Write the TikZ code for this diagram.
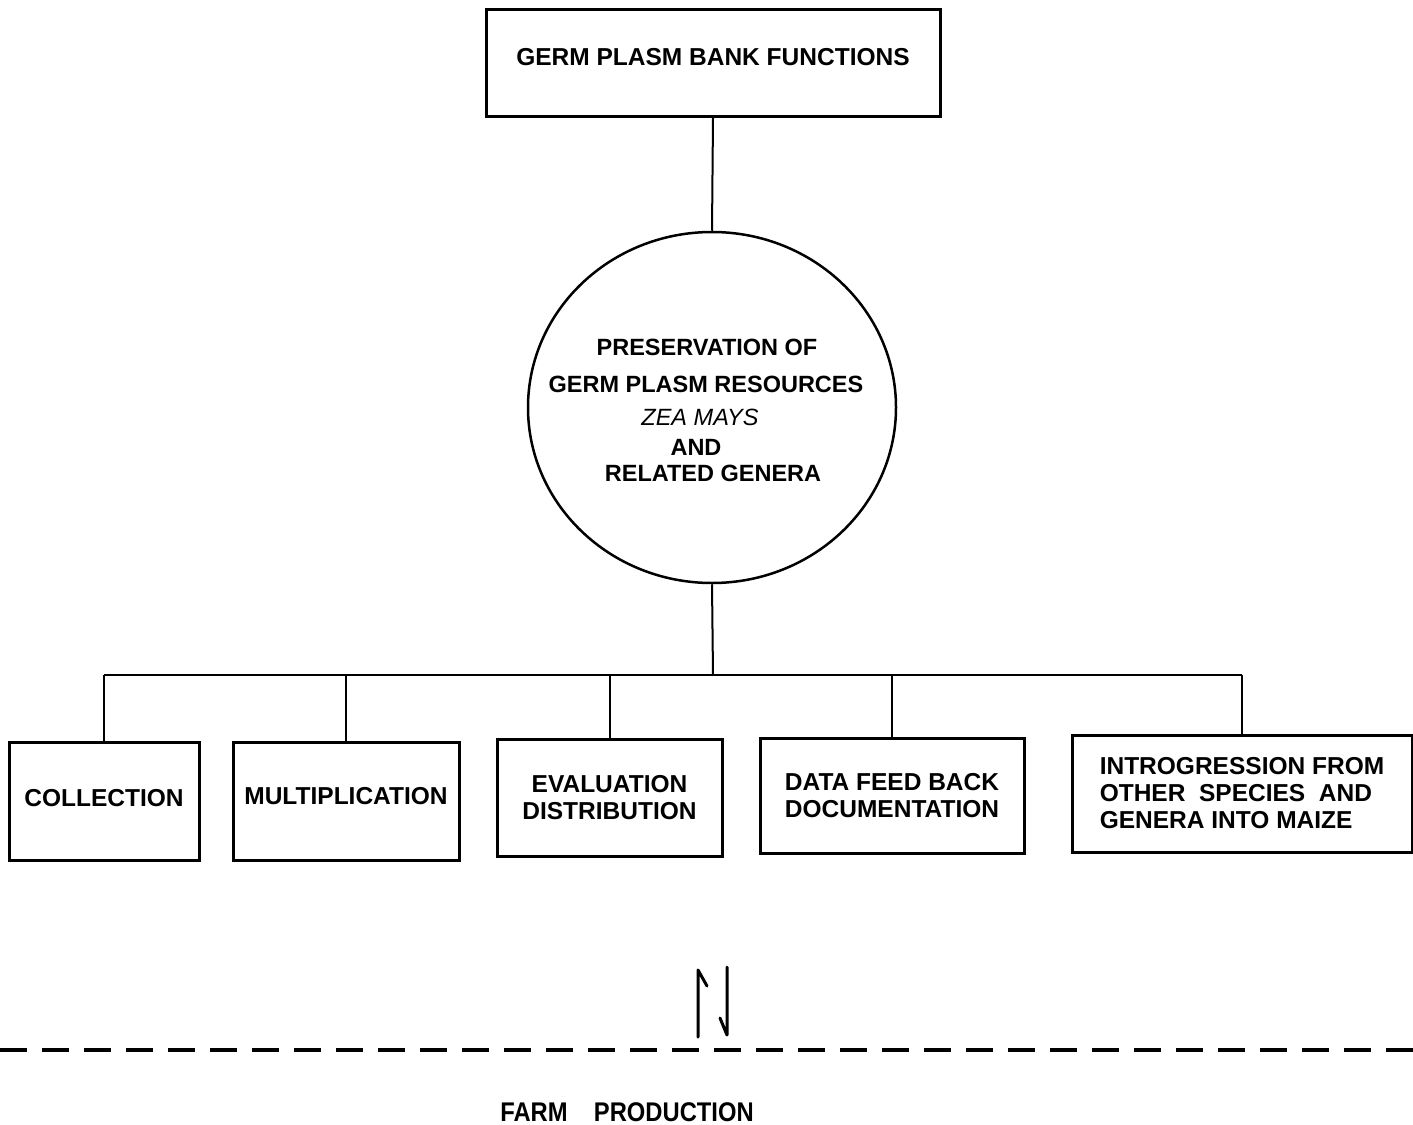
\documentclass[tikz,border=0pt]{standalone}
\usepackage{fontspec}
\setmainfont{Liberation Sans}
\usetikzlibrary{shapes.geometric}
\begin{document}
\begin{tikzpicture}[x=1pt,y=-1pt,
  box/.style={draw, line width=3pt, inner sep=0pt, font=\fontsize{24.5}{27}\selectfont\bfseries, align=center},
  conn/.style={line width=2pt},
  lbl/.style={anchor=base, inner sep=0pt, font=\fontsize{23.5}{26}\selectfont\bfseries},
  harp/.style={line width=3pt, line cap=round, line join=round}]
\useasboundingbox (0,0) rectangle (1413,1124);
\fill[white] (0,0) rectangle (1413,1124);

% top box
\node[box, minimum width=454pt, minimum height=106pt, text depth=12pt] (top) at (713,63) {GERM PLASM BANK FUNCTIONS};

% central circle
\node[draw, ellipse, line width=2.5pt, minimum width=368pt, minimum height=351pt, inner sep=0pt] (pres) at (712,407.5) {};
\node[lbl] (p1) at (707,355) {PRESERVATION OF};
\node[lbl] (p2) at (706,392) {GERM PLASM RESOURCES};
\node[lbl, font=\fontsize{23.5}{26}\selectfont\itshape] (p3) at (700,425) {ZEA MAYS};
\node[lbl] (p4) at (696,455) {AND};
\node[lbl] (p5) at (713,481) {RELATED GENERA};

% bottom boxes
\node[box, minimum width=190pt, minimum height=118pt, text depth=7pt] (b1) at (104,801) {COLLECTION};
\node[box, minimum width=226pt, minimum height=118pt, text depth=10pt] (b2) at (346,801) {MULTIPLICATION};
\node[box, minimum width=225pt, minimum height=117pt] (b3) at (609.5,797.5) {EVALUATION\\DISTRIBUTION};
\node[box, minimum width=264pt, minimum height=115pt] (b4) at (892,795.5) {DATA FEED BACK\\DOCUMENTATION};
\node[box, minimum width=340pt, minimum height=117pt, align=left] (b5) at (1242,793.5) {INTROGRESSION FROM\\OTHER\ \ SPECIES\ \ AND\\GENERA INTO MAIZE};

% connectors
\coordinate (bus) at (713,675);
\draw[conn] (top.south) -- (pres.north);
\draw[conn] (pres.south) -- (bus);
\draw[conn] (b1.north |- bus) -- (b5.north |- bus);
\foreach \b in {b1,b2,b3,b4,b5} \draw[conn] (\b.north |- bus) -- (\b.north);

% exchange arrows
\coordinate (ub) at (698,1037);
\coordinate (ut) at (698,970);
\coordinate (uh) at (707,986);
\coordinate (dt) at (727,967);
\coordinate (db) at (727,1035);
\coordinate (dh) at (720,1018);
\draw[harp] (ub) -- (ut) -- (uh);
\draw[harp] (dt) -- (db) -- (dh);

% dashed boundary
\coordinate (dl) at (0,1050);
\coordinate (dr) at (1413,1050);
\draw[line width=3.5pt, dash pattern=on 27pt off 15pt] (dl) -- (dr);

% farm production
\node[anchor=base, inner sep=0pt, font=\fontsize{27}{30}\selectfont\bfseries] (farm) at (627,1121) {\scalebox{0.88}[1]{FARM\hspace{30pt}PRODUCTION}};
\end{tikzpicture}
\end{document}
